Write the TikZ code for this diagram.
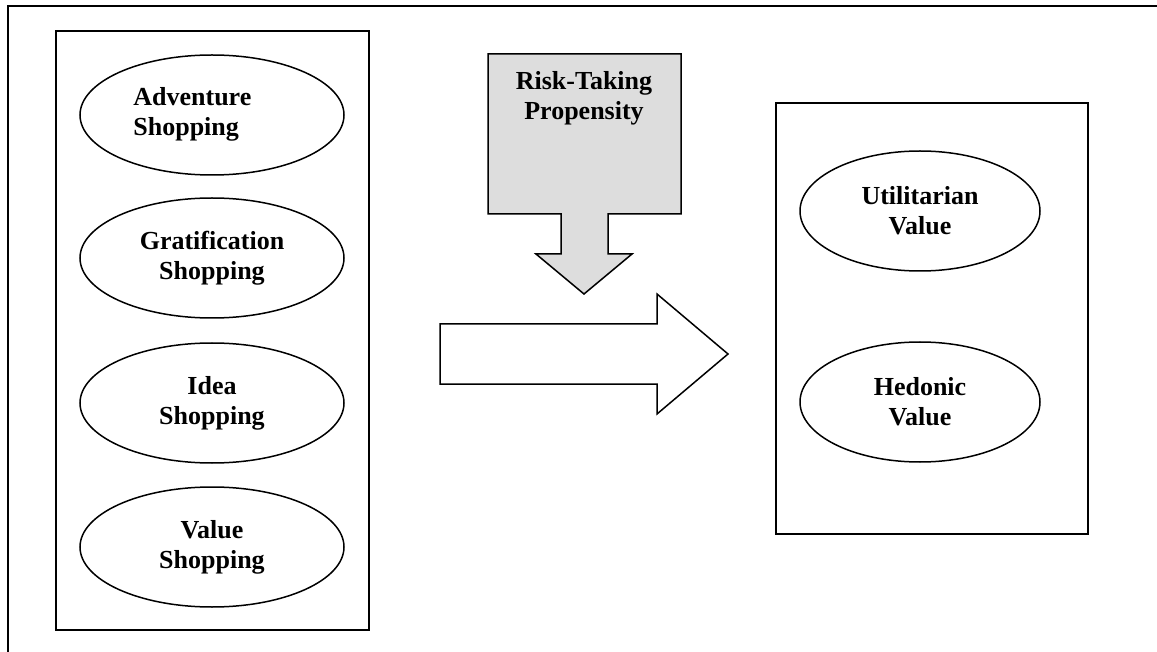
\documentclass[tikz,border=0pt]{standalone}
\usepackage{fontspec}
\setmainfont{Liberation Serif}
\usetikzlibrary{shapes.geometric,positioning}
\definecolor{riskGray}{RGB}{221,221,221}

\tikzset{
  frameline/.style={black, line width=1pt},
  labeltext/.style={font=\fontsize{13}{15}\selectfont\bfseries},
  motive/.style={ellipse, draw, line width=0.75pt, minimum width=132pt, minimum height=60pt, inner sep=0pt, align=center, labeltext},
  valuenode/.style={ellipse, draw, line width=0.75pt, minimum width=120pt, minimum height=60pt, inner sep=0pt, align=center, labeltext},
  blockarrow/.style={draw, line width=0.75pt, line join=miter}
}

\begin{document}
\begin{tikzpicture}[x=0.5pt, y=-0.5pt]
\useasboundingbox (0,0) rectangle (1157,652);

% outer frame, cut at right and bottom
\draw[frameline] (8,652) -- (8,6) -- (1157,6);

% shopping motives
\draw[frameline] (56,31) rectangle (369,630);
\node[motive] (adventure) at (212,115) {};
\node[labeltext, align=left, anchor=west, inner sep=0pt] (adventureText) at (133,114) {Adventure\\Shopping};
\node[motive] (gratification) at (212,258) {Gratification\\Shopping};
\node[motive] (idea) at (212,403) {Idea\\Shopping};
\node[motive] (valueShop) at (212,547) {Value\\Shopping};

% moderator
\draw[blockarrow, fill=riskGray] (488,54) -- (681,54) -- (681,214) -- (608,214) -- (608,254)
  -- (632,254) -- (584,294) -- (536,254) -- (561,254) -- (561,214) -- (488,214) -- cycle;
\node[labeltext, align=center] (risk) at (584,98) {Risk-Taking\\Propensity};

% main effect
\draw[blockarrow, fill=white] (440,324) -- (657,324) -- (657,294) -- (728,354)
  -- (657,414) -- (657,384) -- (440,384) -- cycle;

% shopping values
\draw[frameline] (776,103) rectangle (1088,534);
\node[valuenode] (utilitarian) at (920,211) {Utilitarian\\Value};
\node[valuenode] (hedonic) at (920,402) {Hedonic\\Value};
\end{tikzpicture}
\end{document}
